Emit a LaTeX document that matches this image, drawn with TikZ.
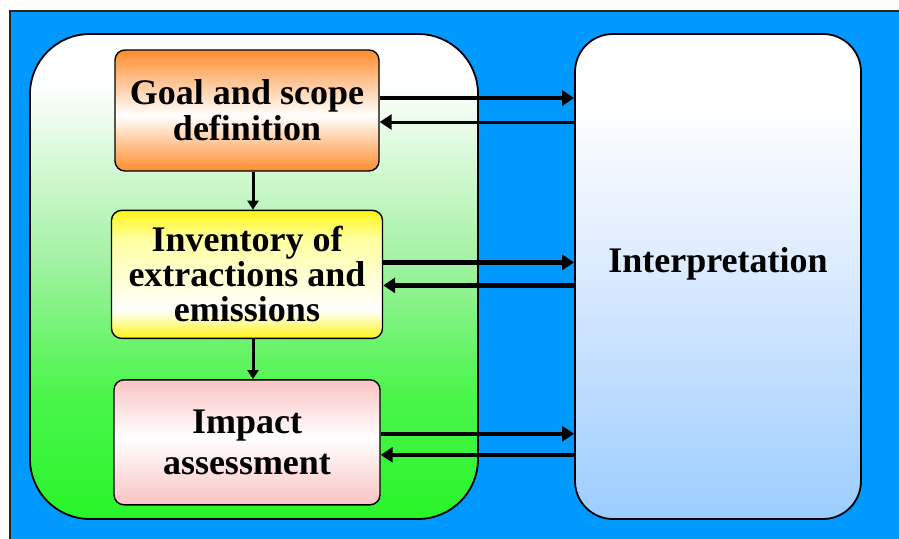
\documentclass[tikz,border=0pt]{standalone}
\usepackage{fontspec}
\setmainfont{Liberation Serif}
\usepackage{tikz}
\usetikzlibrary{arrows.meta,positioning}

\definecolor{skyblue}{RGB}{0,153,255}
\definecolor{stagegreen}{RGB}{40,245,40}
\definecolor{palegreen}{RGB}{165,242,165}
\definecolor{midgreen}{RGB}{75,245,75}
\definecolor{interpblue}{RGB}{155,205,255}
\definecolor{paleblue}{RGB}{218,234,255}
\definecolor{goalorange}{RGB}{255,140,45}
\definecolor{invyellow}{RGB}{255,245,20}
\definecolor{paleyellow}{RGB}{255,255,160}
\definecolor{impactpink}{RGB}{250,195,195}

% vertical fills (25bp = bottom edge, 75bp = top edge of the node)
\pgfdeclareverticalshading{stagesfill}{100bp}{color(0bp)=(stagegreen); color(25bp)=(stagegreen); color(38bp)=(midgreen); color(52bp)=(palegreen); color(70bp)=(white); color(100bp)=(white)}
\pgfdeclareverticalshading{interpfill}{100bp}{color(0bp)=(interpblue); color(25bp)=(interpblue); color(50bp)=(paleblue); color(68bp)=(white); color(100bp)=(white)}
\pgfdeclareverticalshading{goalfill}{100bp}{color(0bp)=(goalorange); color(25bp)=(goalorange); color(48bp)=(white); color(75bp)=(goalorange); color(100bp)=(goalorange)}
\pgfdeclareverticalshading{inventoryfill}{100bp}{color(0bp)=(invyellow); color(25bp)=(invyellow); color(36bp)=(white); color(64bp)=(paleyellow); color(75bp)=(invyellow); color(100bp)=(invyellow)}
\pgfdeclareverticalshading{impactfill}{100bp}{color(0bp)=(impactpink); color(25bp)=(impactpink); color(52bp)=(white); color(75bp)=(impactpink); color(100bp)=(impactpink)}

\begin{document}
\begin{tikzpicture}[
        x=1pt, y=-1pt,
        node distance=38pt,
        panel/.style={draw, line width=1.8pt, rounded corners=#1, inner sep=0pt, minimum height=485pt},
        stagebox/.style={draw, line width=1.4pt, rounded corners=10pt, align=center, inner sep=0pt, font=\bfseries\fontsize{36}{36}\selectfont},
        flow/.style={-{Triangle[length=12pt,width=15pt]}, line width=4.2pt},
        link/.style={-{Triangle[length=9pt,width=11pt]}, line width=3pt}
    ]
        \useasboundingbox (0,0) rectangle (899,538);
        \fill[white] (0,0) rectangle (899,538);

        % Blue frame
        \filldraw[fill=skyblue, draw=black!85, line width=1.5pt] (10,11) rectangle (920,560);

        % Panels
        \node[panel=60pt, minimum width=448pt, shading=stagesfill] (stages) at (254,276.5) {};
        \node[panel=38pt, minimum width=286pt, shading=interpfill] (interp) at (718,276.5) {};
        \node[font=\bfseries\fontsize{36}{36}\selectfont] (interplabel) at ([yshift=13pt]interp.center) {Interpretation};

        % Stages
        \node[stagebox, shading=goalfill, minimum width=264pt, minimum height=121pt] (goal) at (247,110.5) {Goal and scope\\definition};
        \node[stagebox, shading=inventoryfill, below=of goal, minimum width=271pt, minimum height=128pt, font=\bfseries\fontsize{36}{35}\selectfont] (inventory) {Inventory of\\extractions and\\emissions};
        \node[stagebox, shading=impactfill, below=40pt of inventory, minimum width=266pt, minimum height=125pt, font=\bfseries\fontsize{36}{41}\selectfont] (impact) {Impact\\assessment};

        % Stage to stage
        \draw[link] ([xshift=6pt]goal.south) -- ([xshift=6pt]inventory.north);
        \draw[link] ([xshift=6pt]inventory.south) -- ([xshift=6pt]impact.north);

        % To and from interpretation
        \draw[flow] ([yshift=12.5pt]goal.east) -- ([yshift=12.5pt]goal.east -| interp.west);
        \draw[flow, line width=3pt] ([yshift=-11.5pt]goal.east -| interp.west) -- ([yshift=-11.5pt]goal.east);
        \draw[flow] ([yshift=12pt]inventory.east) -- ([yshift=12pt]inventory.east -| interp.west);
        \draw[flow] ([yshift=-11pt]inventory.east -| interp.west) -- ([yshift=-11pt]inventory.east);
        \draw[flow] ([yshift=8.5pt]impact.east) -- ([yshift=8.5pt]impact.east -| interp.west);
        \draw[flow] ([yshift=-12.5pt]impact.east -| interp.west) -- ([yshift=-12.5pt]impact.east);
    \end{tikzpicture}
\end{document}
